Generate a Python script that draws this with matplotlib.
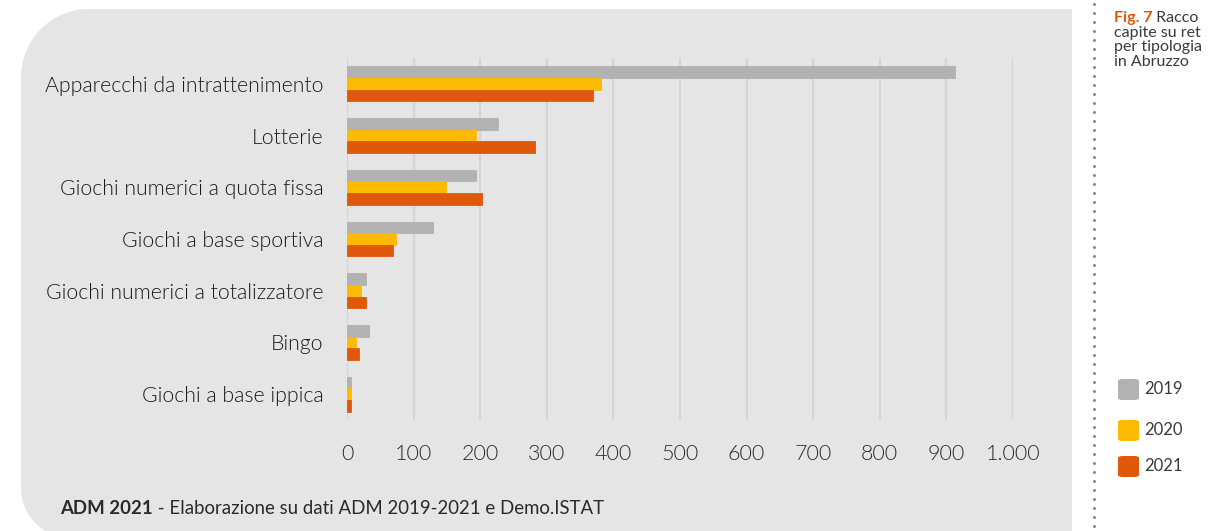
import numpy as np
import matplotlib
matplotlib.use("Agg")
import matplotlib.pyplot as plt
from matplotlib.patches import PathPatch, FancyBboxPatch
from matplotlib.path import Path

plt.rcParams['font.family'] = ['Lato', 'DejaVu Sans']

# Raccolta pro capite per tipologia di gioco (Abruzzo)
categories = [
    "Apparecchi da intrattenimento",
    "Lotterie",
    "Giochi numerici a quota fissa",
    "Giochi a base sportiva",
    "Giochi numerici a totalizzatore",
    "Bingo",
    "Giochi a base ippica",
]
years = ["2019", "2020", "2021"]
val_2019 = [913, 226, 194, 129, 29, 33, 6]
val_2020 = [382, 194, 149, 73, 21, 13, 6]
val_2021 = [369, 282, 202, 69, 29, 18, 6]
x_ticks = [0, 100, 200, 300, 400, 500, 600, 700, 800, 900, 1000]
x_tick_labels = ["0", "100", "200", "300", "400", "500", "600", "700", "800", "900", "1.000"]

colors = ["#b2b2b2", "#fcba03", "#e0590b"]
panel_bg = "#e5e5e5"
W, H = 1220, 531

fig = plt.figure(figsize=(W / 100, H / 100), dpi=100)
fig.patch.set_facecolor("white")


def px(x, y):
    # pixel (from top-left) -> figure fraction
    return x / W, 1 - y / H


# grey background panel: big round top-left, rounded bottom-left, square right
def arc(cx, cy, r, a0, a1, n=30):
    t = np.radians(np.linspace(a0, a1, n))
    return [(cx + r * np.cos(t_), cy + r * np.sin(t_)) for t_ in t]

left, top, right, bottom = 21, 9, 1072, 538
r_tl, r_bl = 68, 50
pts = []
pts += arc(left + r_tl, top + r_tl, r_tl, 180, 270)
pts += [(right, top), (right, bottom)]
pts += arc(left + r_bl, bottom - r_bl, r_bl, 90, 180)
pts.append(pts[0])
verts = [px(x, y) for x, y in pts]
codes = [Path.MOVETO] + [Path.LINETO] * (len(verts) - 2) + [Path.CLOSEPOLY]
fig.patches.append(PathPatch(Path(verts, codes), facecolor=panel_bg, edgecolor="none",
                             transform=fig.transFigure, zorder=-5))

# dotted separator
dots_y = np.arange(4, H, 9)
fig.lines.append(plt.Line2D([1094 / W] * len(dots_y), 1 - dots_y / H, transform=fig.transFigure,
                            linestyle="none", marker="o", markersize=2.2, color="#8c8c8c",
                            markeredgewidth=0, zorder=-4))

ax = fig.add_axes([347 / W, 1 - 420 / H, (1013 - 347) / W, (420 - 58) / H])
ax.set_facecolor("none")
ax.set_zorder(2)

y = np.arange(len(categories))
h = 0.225
for i, (vals, c) in enumerate(zip([val_2019, val_2020, val_2021], colors)):
    ax.barh(y + (i - 1) * h, vals, height=h, color=c, edgecolor=c, linewidth=0.6,
            joinstyle="round", zorder=3)

ax.set_xlim(0, 1000)
ax.set_ylim(len(categories) - 0.5, -0.5)
ax.set_xticks(x_ticks)
ax.set_xticklabels(x_tick_labels, fontweight=300, color="#2a2a2a")
ax.set_yticks(y)
ax.set_yticklabels(categories, fontweight=300, color="#1a1a1a")
ax.grid(axis="x", color="#d5d5d5", linewidth=1.6, zorder=0)
ax.set_axisbelow(True)
for s in ax.spines.values():
    s.set_visible(False)
ax.tick_params(axis="x", length=0, pad=17, labelsize=15.5)
ax.tick_params(axis="y", length=0, pad=17, labelsize=15.3)

# footer
renderer = fig.canvas.get_renderer()
fx, fy = px(60, 514)
bold = fig.text(fx, fy, "ADM 2021", fontsize=13.4, fontweight="bold", color="#2a2a2a",
                va="baseline")
bb = bold.get_window_extent(renderer)
fig.text(bb.x1 / W, fy, " - Elaborazione su dati ADM 2019-2021 e Demo.ISTAT", fontsize=13.4,
         color="#2a2a2a", va="baseline")

# figure title on the right
tx = 1114 / W
fsz = 11.5
t0 = fig.text(tx, px(0, 22)[1], "Fig. 7", fontsize=fsz, fontweight="bold", color="#e0590b",
              va="baseline")
tb = t0.get_window_extent(renderer)
fig.text(tb.x1 / W, px(0, 22)[1], " Racco", fontsize=fsz, color="#3a3a3a", va="baseline")
for k, line in enumerate(["capite su ret", "per tipologia", "in Abruzzo"]):
    fig.text(tx, px(0, 37 + 14.5 * k)[1], line, fontsize=fsz, color="#3a3a3a", va="baseline")

# legend
for k, (yr, c) in enumerate(zip(years, colors)):
    yc = [389, 430, 466][k]
    x0, y0 = px(1118, yc + 11)
    fig.patches.append(FancyBboxPatch((x0, y0), 21 / W, 21 / H,
                                      boxstyle="round,pad=0,rounding_size=0.004",
                                      facecolor=c, edgecolor="none", transform=fig.transFigure))
    fig.text(px(1144, 0)[0], 1 - yc / H, yr, fontsize=12, color="#3a3a3a", va="center")

fig.savefig("out.png", dpi=100, facecolor="white")
